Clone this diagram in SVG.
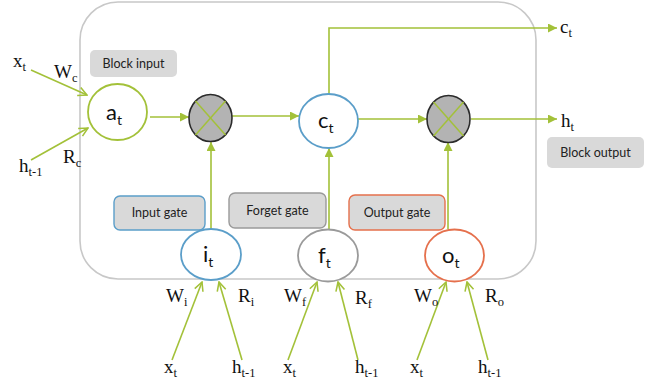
<svg xmlns="http://www.w3.org/2000/svg" width="655" height="387" viewBox="0 0 655 387">
<style>
.m{font-family:"Liberation Serif","DejaVu Serif",serif;font-size:19px;fill:#111}
.ms{font-size:12.5px}
.n{font-family:Lato,"Open Sans","Liberation Sans",sans-serif;font-size:22px;fill:#111}
.ns{font-size:14px}
.lab{font-family:Lato,"Open Sans","Liberation Sans",sans-serif;font-size:12.5px;fill:#222}
.ln{stroke:#a3c139;stroke-width:1.6;fill:none}
.node{fill:#fff;stroke-width:1.8}
.mul{fill:#b3b3b3;stroke:#2b2b2b;stroke-width:1.6}
.x{stroke:#a3c139;stroke-width:1.5}
</style>
<defs>
<marker id="tri" viewBox="0 0 10 10" refX="10" refY="5" markerWidth="10" markerHeight="9" orient="auto" markerUnits="userSpaceOnUse"><path d="M0,0 L10,5 L0,10 z" fill="#a3c139"/></marker>
<marker id="open" viewBox="0 0 10 10" refX="9" refY="5" markerWidth="11" markerHeight="11" orient="auto" markerUnits="userSpaceOnUse"><path d="M1,1 L9,5 L1,9" fill="none" stroke="#a3c139" stroke-width="1.4"/></marker>
</defs>
<rect width="655" height="387" fill="#fff"/>
<rect id="block" x="80" y="2" width="456" height="277" rx="38" fill="none" stroke="#c8c8c8" stroke-width="1.6"/>

<g id="connectors">
<line class="ln" x1="150" y1="117" x2="189" y2="117" marker-end="url(#tri)"/>
<line class="ln" x1="232" y1="116" x2="299" y2="116" marker-end="url(#tri)"/>
<line class="ln" x1="358" y1="119" x2="427" y2="119" marker-end="url(#tri)"/>
<line class="ln" x1="471" y1="119" x2="557" y2="119" marker-end="url(#tri)"/>
<polyline class="ln" points="329,94 329,28 557,28" marker-end="url(#tri)"/>
<line class="ln" x1="211" y1="229" x2="211" y2="142" marker-end="url(#tri)"/>
<line class="ln" x1="329" y1="229" x2="329" y2="148" marker-end="url(#tri)"/>
<line class="ln" x1="448" y1="229" x2="448" y2="142" marker-end="url(#tri)"/>
<line class="ln" x1="31" y1="70" x2="87" y2="95" marker-end="url(#open)"/>
<line class="ln" x1="31" y1="160" x2="88" y2="128" marker-end="url(#open)"/>
<line class="ln" x1="172" y1="360" x2="202" y2="282" marker-end="url(#open)"/>
<line class="ln" x1="242" y1="360" x2="219" y2="282" marker-end="url(#open)"/>
<line class="ln" x1="288" y1="360" x2="317" y2="282" marker-end="url(#open)"/>
<line class="ln" x1="358" y1="360" x2="338" y2="282" marker-end="url(#open)"/>
<line class="ln" x1="417" y1="360" x2="446" y2="282" marker-end="url(#open)"/>
<line class="ln" x1="488" y1="360" x2="467" y2="282" marker-end="url(#open)"/>
</g>

<g id="block-input-label">
<rect x="90" y="50" width="87" height="27" rx="5" fill="#d9d9d9"/>
<text class="lab" x="133.5" y="68" text-anchor="middle">Block input</text>
</g>
<g id="block-output-label">
<rect x="547" y="137" width="97" height="31" rx="5" fill="#d9d9d9"/>
<text class="lab" x="595.5" y="157" text-anchor="middle">Block output</text>
</g>
<g id="input-gate-label">
<rect x="114" y="196" width="91" height="34" rx="6" fill="#d9d9d9" stroke="#5b9ec9" stroke-width="1.4"/>
<text class="lab" x="159.5" y="217" text-anchor="middle">Input gate</text>
</g>
<g id="forget-gate-label">
<rect x="229" y="193" width="97" height="35" rx="6" fill="#d9d9d9" stroke="#9a9a9a" stroke-width="1.4"/>
<text class="lab" x="277.5" y="215" text-anchor="middle">Forget gate</text>
</g>
<g id="output-gate-label">
<rect x="349" y="195" width="96" height="35" rx="6" fill="#d9d9d9" stroke="#e5704c" stroke-width="1.4"/>
<text class="lab" x="397" y="217" text-anchor="middle">Output gate</text>
</g>

<g id="a_t">
<ellipse class="node" cx="117.5" cy="112" rx="29.5" ry="28" stroke="#a3c139"/>
<text class="n" x="106" y="120">a<tspan class="ns" dy="5">t</tspan></text>
</g>
<g id="mult1">
<ellipse class="mul" cx="210.5" cy="118" rx="21.5" ry="23.5"/>
<line class="x" x1="195.5" y1="101" x2="225.5" y2="135"/>
<line class="x" x1="225.5" y1="101" x2="195.5" y2="135"/>
</g>
<g id="c_t">
<ellipse class="node" cx="328.5" cy="121" rx="29.5" ry="27" stroke="#5b9ec9"/>
<text class="n" x="318" y="128">c<tspan class="ns" dy="5">t</tspan></text>
</g>
<g id="mult2">
<ellipse class="mul" cx="448.5" cy="119" rx="21.5" ry="23.5"/>
<line class="x" x1="433.5" y1="102" x2="463.5" y2="136"/>
<line class="x" x1="463.5" y1="102" x2="433.5" y2="136"/>
</g>
<g id="i_t">
<ellipse class="node" cx="211" cy="254.5" rx="30" ry="25.5" stroke="#5b9ec9"/>
<text class="n" x="203" y="262">i<tspan class="ns" dy="5">t</tspan></text>
</g>
<g id="f_t">
<ellipse class="node" cx="328" cy="255.5" rx="30" ry="26" stroke="#9a9a9a"/>
<text class="n" x="318" y="263">f<tspan class="ns" dy="5">t</tspan></text>
</g>
<g id="o_t">
<ellipse class="node" cx="454.5" cy="255.5" rx="29.5" ry="26" stroke="#e5704c"/>
<text class="n" x="442" y="263">o<tspan class="ns" dy="5">t</tspan></text>
</g>

<g id="labels">
<text class="m" x="13" y="67">x<tspan class="ms" dy="4">t</tspan></text>
<text class="m" x="54" y="78">W<tspan class="ms" dy="4">c</tspan></text>
<text class="m" x="19" y="172">h<tspan class="ms" dy="4">t-1</tspan></text>
<text class="m" x="63" y="163">R<tspan class="ms" dy="4">c</tspan></text>
<text class="m" x="560" y="33">c<tspan class="ms" dy="4">t</tspan></text>
<text class="m" x="561" y="127">h<tspan class="ms" dy="4">t</tspan></text>

<text class="m" x="166" y="302">W<tspan class="ms" dy="4">i</tspan></text>
<text class="m" x="238" y="302">R<tspan class="ms" dy="4">i</tspan></text>
<text class="m" x="164" y="373">x<tspan class="ms" dy="4">t</tspan></text>
<text class="m" x="232" y="373">h<tspan class="ms" dy="4">t-1</tspan></text>

<text class="m" x="284" y="302">W<tspan class="ms" dy="4">f</tspan></text>
<text class="m" x="355" y="304">R<tspan class="ms" dy="4">f</tspan></text>
<text class="m" x="283" y="373">x<tspan class="ms" dy="4">t</tspan></text>
<text class="m" x="355" y="373">h<tspan class="ms" dy="4">t-1</tspan></text>

<text class="m" x="414" y="302">W<tspan class="ms" dy="4">o</tspan></text>
<text class="m" x="485" y="302">R<tspan class="ms" dy="4">o</tspan></text>
<text class="m" x="410" y="373">x<tspan class="ms" dy="4">t</tspan></text>
<text class="m" x="478" y="373">h<tspan class="ms" dy="4">t-1</tspan></text>
</g>
</svg>
